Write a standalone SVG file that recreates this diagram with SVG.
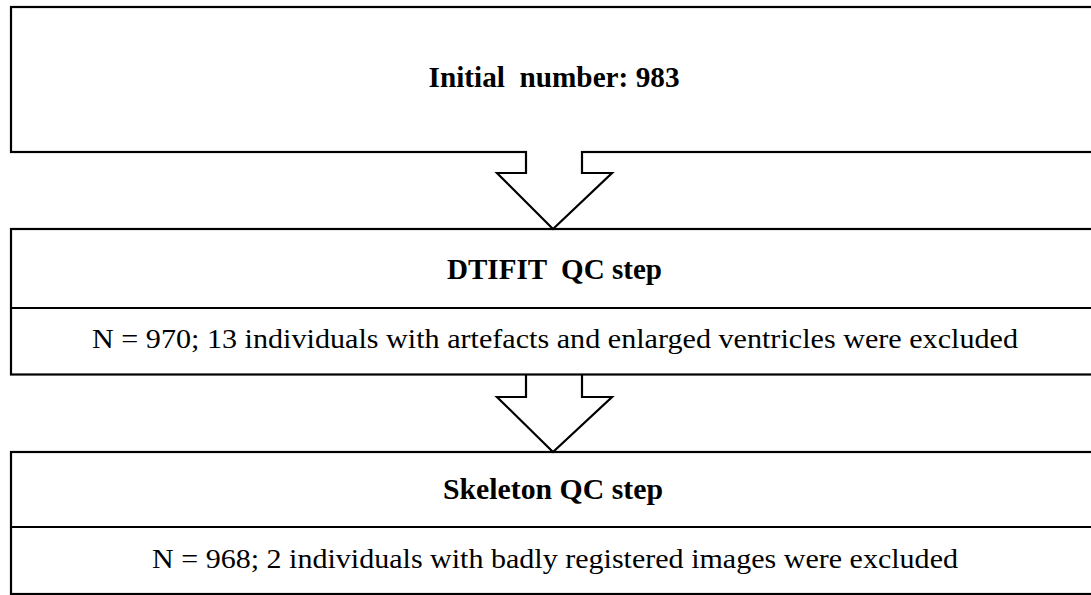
<svg xmlns="http://www.w3.org/2000/svg" width="1091" height="595" viewBox="0 0 1091 595">
  <style>
    .box { fill: #ffffff; stroke: #000000; stroke-width: 2.2; }
    .rule { stroke: #000000; stroke-width: 2.2; fill: none; }
    .arrow { fill: none; stroke: #000000; stroke-width: 2.2; stroke-linejoin: miter; }
    .mask { fill: #ffffff; stroke: none; }
    .title { font-family: "Liberation Serif", "Times New Roman", serif; font-weight: bold; font-size: 29px; fill: #000000; text-anchor: middle; }
    .body { font-family: "Liberation Serif", "Times New Roman", serif; font-size: 28px; fill: #000000; text-anchor: middle; }
  </style>

  <rect width="1091" height="595" fill="#ffffff"/>

  <!-- Start box -->
  <g id="initial">
    <rect class="box" x="11" y="7" width="1090" height="145"/>
    <text class="title" x="554" y="87" xml:space="preserve" textLength="251" lengthAdjust="spacingAndGlyphs">Initial  number: 983</text>
  </g>

  <!-- First quality-control step -->
  <g id="dtifit-qc">
    <rect class="box" x="11" y="229" width="1090" height="145.5"/>
    <line class="rule" x1="11" y1="308" x2="1091" y2="308"/>
    <text class="title" x="554.5" y="279" xml:space="preserve" textLength="215" lengthAdjust="spacingAndGlyphs">DTIFIT  QC step</text>
    <text class="body" x="555" y="348" textLength="926" lengthAdjust="spacingAndGlyphs">N = 970; 13 individuals with artefacts and enlarged ventricles were excluded</text>
  </g>

  <!-- Second quality-control step -->
  <g id="skeleton-qc">
    <rect class="box" x="11" y="452" width="1090" height="142"/>
    <line class="rule" x1="11" y1="527" x2="1091" y2="527"/>
    <text class="title" x="553" y="499" textLength="220" lengthAdjust="spacingAndGlyphs">Skeleton QC step</text>
    <text class="body" x="555" y="568" textLength="806" lengthAdjust="spacingAndGlyphs">N = 968; 2 individuals with badly registered images were excluded</text>
  </g>

  <!-- Block arrows between steps -->
  <g id="connectors">
    <polygon class="mask" points="527,149 527,173 497,173 553,229 612,173 581,173 581,149"/>
    <polyline class="arrow" points="526,151 526,173 497,173 553,229 612,173 582,173 582,151"/>
    <polygon class="mask" points="527,377 527,397 497,397 553,452 612,397 581,397 581,377"/>
    <polyline class="arrow" points="526,375 526,397 497,397 553,452 612,397 582,397 582,375"/>
  </g>
</svg>
